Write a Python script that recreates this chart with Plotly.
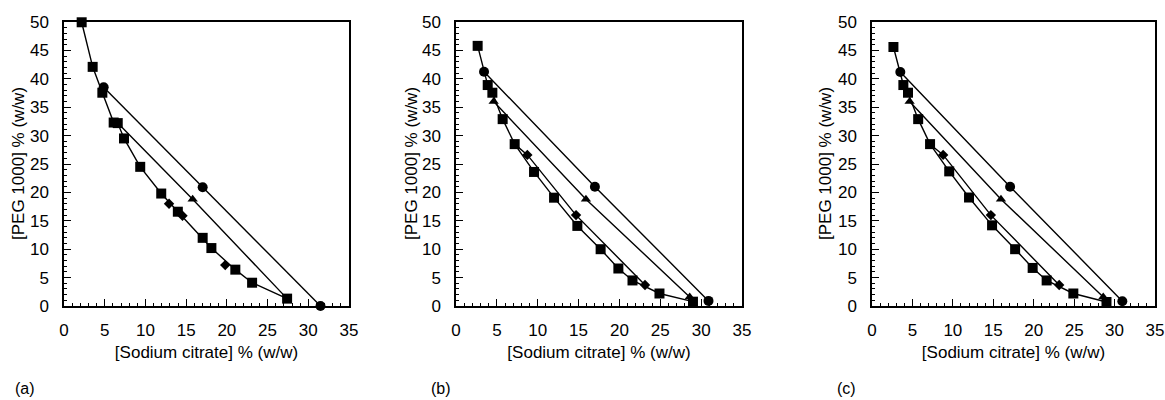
import plotly.graph_objects as go

# ---------------- data ----------------
# Panel (a)
a_sq_x = [2.17, 3.52, 4.71, 6.10, 6.60, 7.37, 9.36, 11.94, 13.98, 17.03, 18.10, 21.04, 23.10, 27.40]
a_sq_y = [49.95, 42.1, 37.55, 32.3, 32.2, 29.5, 24.5, 19.8, 16.6, 12.0, 10.2, 6.4, 4.1, 1.3]
a_ci_x = [4.87, 17.03, 31.5]
a_ci_y = [38.5, 20.9, 0.0]
a_tri_line_x = [6.60, 15.8, 27.40]
a_tri_line_y = [32.2, 18.8, 1.3]
a_tri_x = [15.8]
a_tri_y = [18.8]
a_di_x = [12.9, 14.55, 19.8]
a_di_y = [18.0, 15.9, 7.2]

# Panel (b)
b_sq_x = [2.65, 3.88, 4.45, 5.71, 7.18, 9.55, 12.0, 14.85, 17.7, 19.87, 21.6, 24.9, 29.0]
b_sq_y = [45.8, 38.9, 37.55, 32.9, 28.5, 23.6, 19.07, 14.1, 10.0, 6.6, 4.5, 2.2, 0.76]
b_ci_x = [3.43, 17.0, 30.9]
b_ci_y = [41.25, 21.0, 0.9]
b_tri_x = [4.61, 15.9, 28.6]
b_tri_y = [36.0, 18.8, 1.6]
b_di_line_x = [7.18, 8.73, 14.69, 23.13]
b_di_line_y = [28.5, 26.6, 16.0, 3.7]
b_di_x = [8.73, 14.69, 23.13]
b_di_y = [26.6, 16.0, 3.7]

# Panel (c)
c_sq_x = [2.65, 3.88, 4.45, 5.71, 7.18, 9.55, 12.0, 14.85, 17.7, 19.87, 21.6, 24.9, 29.0]
c_sq_y = [45.6, 38.9, 37.55, 32.9, 28.5, 23.7, 19.1, 14.2, 10.0, 6.7, 4.5, 2.2, 0.7]
c_ci_x = [3.5, 17.08, 30.96]
c_ci_y = [41.2, 21.0, 0.85]
c_tri_x = [4.65, 15.95, 28.6]
c_tri_y = [36.0, 18.8, 1.6]
c_di_line_x = [7.25, 8.8, 14.7, 23.15]
c_di_line_y = [28.4, 26.6, 16.0, 3.7]
c_di_x = [8.8, 14.7, 23.15]
c_di_y = [26.6, 16.0, 3.7]

x_ticks = [0, 5, 10, 15, 20, 25, 30, 35]
y_ticks = [0, 5, 10, 15, 20, 25, 30, 35, 40, 45, 50]
x_title = "[Sodium citrate] % (w/w)"
y_title = "[PEG 1000] % (w/w)"
panel_labels = ["(a)", "(b)", "(c)"]

# ---------------- figure ----------------
FONT = "Liberation Sans, Arial, Helvetica, sans-serif"
LW = 1.4
fig = go.Figure()


def line(x, y, ax):
    fig.add_trace(go.Scatter(x=x, y=y, mode="lines", line=dict(color="black", width=LW),
                             xaxis="x" + ax, yaxis="y" + ax, cliponaxis=False,
                             showlegend=False, hoverinfo="skip"))


def marks(x, y, ax, symbol, size):
    fig.add_trace(go.Scatter(x=x, y=y, mode="markers",
                             marker=dict(symbol=symbol, size=size, color="black",
                                         line=dict(width=0)),
                             xaxis="x" + ax, yaxis="y" + ax, cliponaxis=False,
                             showlegend=False))


# panel a
line(a_sq_x, a_sq_y, "")
line(a_ci_x, a_ci_y, "")
line(a_tri_line_x, a_tri_line_y, "")
marks(a_sq_x, a_sq_y, "", "square", 10)
marks(a_ci_x, a_ci_y, "", "circle", 10)
marks(a_tri_x, a_tri_y, "", "triangle-up", 9)
marks(a_di_x, a_di_y, "", "diamond", 8)

# panel b
line(b_sq_x, b_sq_y, "2")
line(b_ci_x, b_ci_y, "2")
line(b_tri_x, b_tri_y, "2")
line(b_di_line_x, b_di_line_y, "2")
marks(b_sq_x, b_sq_y, "2", "square", 10)
marks(b_ci_x, b_ci_y, "2", "circle", 10)
marks(b_tri_x, b_tri_y, "2", "triangle-up", 9)
marks(b_di_x, b_di_y, "2", "diamond", 8)

# panel c
line(c_sq_x, c_sq_y, "3")
line(c_ci_x, c_ci_y, "3")
line(c_tri_x, c_tri_y, "3")
line(c_di_line_x, c_di_line_y, "3")
marks(c_sq_x, c_sq_y, "3", "square", 10)
marks(c_ci_x, c_ci_y, "3", "circle", 10)
marks(c_tri_x, c_tri_y, "3", "triangle-up", 9)
marks(c_di_x, c_di_y, "3", "diamond", 8)

# the page body margin is removed (post_script below), so the figure fills the window
W, H = 1165, 400


def fx(px):
    return px / W


def fy(py):
    return 1 - py / H


x_domains = [(fx(64), fx(349)), (fx(456), fx(742)), (fx(872), fx(1155))]
y_domain = (fy(306), fy(22))


def xaxis(dom, anchor):
    return dict(domain=list(dom), anchor=anchor, range=[0, 35], tickvals=x_ticks,
                showline=True, linecolor="black", linewidth=1.5, mirror=True,
                ticks="inside", ticklen=7, tickwidth=1, tickcolor="black",
                minor=dict(dtick=1, ticks="inside", ticklen=3.5, tickwidth=1, tickcolor="black"),
                showgrid=False, zeroline=False, ticklabelstandoff=8, automargin=False,
                tickfont=dict(family=FONT, size=17, color="black"),
                title=dict(text=x_title, font=dict(family=FONT, size=17, color="black"), standoff=7))


def yaxis(dom, anchor):
    return dict(domain=list(dom), anchor=anchor, range=[0, 50], tickvals=y_ticks,
                showline=True, linecolor="black", linewidth=1.5, mirror=True,
                ticks="inside", ticklen=7, tickwidth=1, tickcolor="black",
                minor=dict(dtick=1, ticks="inside", ticklen=3.5, tickwidth=1, tickcolor="black"),
                showgrid=False, zeroline=False, ticklabelstandoff=10, automargin=False,
                tickfont=dict(family=FONT, size=17, color="black"))


label_x = [25, 441, 846]
ytitle_x = [19, 412, 826]
annotations = [dict(text=t, x=fx(lx), y=fy(388), xref="paper", yref="paper",
                    showarrow=False, xanchor="center", yanchor="middle",
                    font=dict(family=FONT, size=16, color="black"))
               for t, lx in zip(panel_labels, label_x)]
annotations += [dict(text=y_title, x=fx(tx), y=fy(164), xref="paper", yref="paper",
                     showarrow=False, xanchor="center", yanchor="middle", textangle=-90,
                     font=dict(family=FONT, size=17, color="black"))
                for tx in ytitle_x]

fig.update_layout(
    width=W, height=H,
    margin=dict(l=0, r=0, t=0, b=0, autoexpand=False),
    paper_bgcolor="white", plot_bgcolor="white",
    xaxis=xaxis(x_domains[0], "y"), yaxis=yaxis(y_domain, "x"),
    xaxis2=xaxis(x_domains[1], "y2"), yaxis2=yaxis(y_domain, "x2"),
    xaxis3=xaxis(x_domains[2], "y3"), yaxis3=yaxis(y_domain, "x3"),
    annotations=annotations,
    showlegend=False,
)

fig.write_html(
    "out.html",
    config={"displayModeBar": False},
    post_script="document.body.style.margin='0';document.body.style.overflow='hidden';",
)
